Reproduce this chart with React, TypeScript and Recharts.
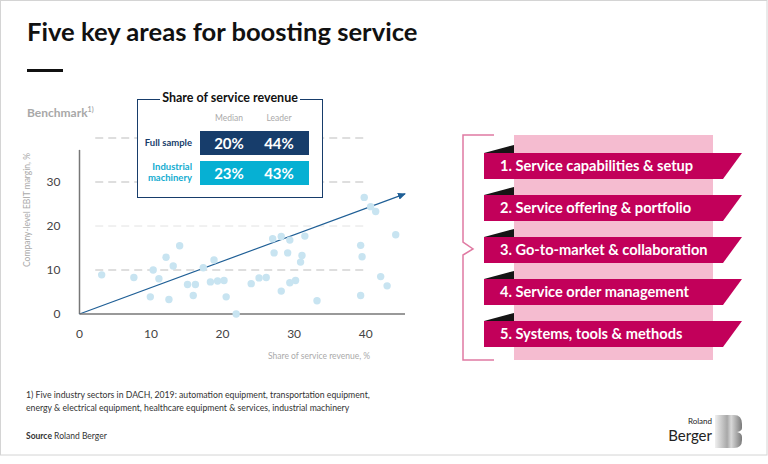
import React from 'react';
import { ScatterChart, Scatter, XAxis, YAxis, ReferenceLine } from 'recharts';

// share of service revenue (%) vs company-level EBIT margin (%)
const serviceShare = [3.1, 7.6, 9.9, 10.3, 11.1, 12.1, 12.5, 13.1, 14.0, 15.1, 15.9, 16.2, 17.3, 18.3, 18.8, 19.3, 20.2, 20.5, 21.9, 24.0, 25.1, 26.1, 27.0, 27.2, 28.2, 28.2, 29.1, 29.4, 29.4, 30.2, 30.9, 31.1, 31.5, 33.2, 39.3, 39.3, 39.5, 39.8, 40.7, 41.4, 42.1, 43.0, 44.2];
const ebitMargin = [8.9, 8.3, 3.9, 10.0, 8.0, 12.9, 3.3, 10.9, 15.5, 6.7, 4.2, 6.7, 10.5, 7.3, 12.3, 7.5, 7.6, 3.9, 0, 6.9, 8.2, 8.3, 17.1, 13.9, 17.6, 5.2, 13.9, 16.8, 7.1, 7.6, 11.8, 13.3, 17.7, 3.0, 15.6, 4.2, 13.0, 26.5, 24.4, 23.3, 8.5, 6.4, 18.0];

const xTicks = [0, 10, 20, 30, 40];
const yTicks = [0, 10, 20, 30];
const gridLevels = [10, 20, 30, 40];
const trendStart = { x: 0, y: 0 };
const trendEnd = { x: 45.5, y: 27.3 };

const tableCols = ['Median', 'Leader'];
const fullSample = ['20%', '44%'];
const industrial = ['23%', '43%'];

const areas = [
  '1. Service capabilities & setup',
  '2. Service offering & portfolio',
  '3. Go-to-market & collaboration',
  '4. Service order management',
  '5. Systems, tools & methods',
];

const points = serviceShare.map((x, i) => ({ x, y: ebitMargin[i] }));

const FONT = 'Lato, "Open Sans", sans-serif';
const NAVY = '#173d6b';
const CYAN = '#06b0d3';
const MAGENTA = '#c2005a';
const PINK = '#f5bcd0';

const Dot = (props: any) => (
  <circle cx={props.cx} cy={props.cy} r={3.7} fill="#c8e4f1" />
);

function RightPanel() {
  const bannerTop = [153, 195, 237, 279, 321];
  return (
    <svg width={768} height={464} style={{ position: 'absolute', left: 0, top: 0 }}>
      <defs>
        <marker id="trendArrow" markerUnits="userSpaceOnUse" markerWidth={8} markerHeight={7} refX={7} refY={3.5} orient="auto">
          <path d="M0,0 L8,3.5 L0,7 Z" fill="#1f5f96" />
        </marker>
        <linearGradient id="bGrad" x1="0" x2="1" y1="0" y2="0">
          <stop offset="0" stopColor="#f0f0f0" />
          <stop offset="0.45" stopColor="#a8a8a8" />
          <stop offset="0.6" stopColor="#d8d8d8" />
          <stop offset="1" stopColor="#7a7a7a" />
        </linearGradient>
      </defs>
      <rect x={0.5} y={0.5} width={766.5} height={454.5} fill="none" stroke="#d4d4d4" />
      <rect x={27} y={69} width={36} height={3} fill="#111" />
      <rect x={514} y={135} width={199} height={225} fill={PINK} />
      <path d="M494,135 L463,135 L463,242 L473,249 L463,255 L463,360 L494,360" fill="none" stroke="#e07aa2" strokeWidth={1.5} />
      {bannerTop.map((t, i) => (
        <g key={i}>
          <path d={`M484,${t} L514,${t - 8} L514,${t} Z`} fill="#151515" />
          <path d={`M484,${t} L742,${t} L723,${t + 26} L484,${t + 26} Z`} fill={MAGENTA} />
          <text x={500} y={t + 18} fill="#fff" fontFamily={FONT} fontWeight={700} fontSize={14.6}>{areas[i]}</text>
        </g>
      ))}
      <path d="M715,415 L734,415 Q742,415 742,424 L742,428 Q742,431 737,432 Q742,433 742,437 L742,440 Q742,448 734,448 L715,448 Z" fill="url(#bGrad)" />
    </svg>
  );
}

function Table() {
  const box = (top: number, color: string, vals: string[]) => (
    <div style={{ position: 'absolute', left: 200, top, width: 109, height: 24, background: color }}>
      {vals.map((v, i) => (
        <div key={i} style={{ position: 'absolute', left: i * 50 + 4, width: 50, top: 0, lineHeight: '24px', textAlign: 'center', color: '#fff', fontWeight: 700, fontSize: 15 }}>{v}</div>
      ))}
    </div>
  );
  return (
    <>
      <div style={{ position: 'absolute', left: 137, top: 99, width: 184, height: 97, border: `1.5px solid ${NAVY}`, background: '#fff' }} />
      <div style={{ position: 'absolute', left: 160, top: 90, width: 140, textAlign: 'center', background: '#fff', fontWeight: 700, fontSize: 12.5, color: '#111', lineHeight: '16px' }}>Share of service revenue</div>
      {tableCols.map((c, i) => (
        <div key={c} style={{ position: 'absolute', left: 204 + i * 50, width: 50, top: 113, textAlign: 'center', fontSize: 8.5, color: '#aaa' }}>{c}</div>
      ))}
      <div style={{ position: 'absolute', left: 130, width: 62, top: 137, textAlign: 'right', fontSize: 9.5, fontWeight: 700, color: NAVY }}>Full sample</div>
      <div style={{ position: 'absolute', left: 130, width: 62, top: 162, textAlign: 'right', fontSize: 9.5, fontWeight: 700, color: '#14acd0', lineHeight: '10.5px' }}>Industrial<br />machinery</div>
      {box(131, NAVY, fullSample)}
      {box(161, CYAN, industrial)}
    </>
  );
}

export default function App() {
  return (
    <div style={{ position: 'absolute', left: 0, top: 0, width: 768, height: 464, background: '#fff', fontFamily: FONT, overflow: 'hidden' }}>
      <RightPanel />
      <div style={{ position: 'absolute', left: 27, top: 16, fontSize: 25.6, fontWeight: 700, color: '#111', whiteSpace: 'nowrap' }}>Five key areas for boosting service</div>
      <div style={{ position: 'absolute', left: 27, top: 105, fontSize: 12, fontWeight: 700, color: '#a8a8a8' }}>Benchmark<sup style={{ fontSize: 7 }}>1)</sup></div>

      <div style={{ position: 'absolute', left: 0, top: 0 }}>
        <ScatterChart width={420} height={380} margin={{ top: 133.6, right: 15, bottom: 36, left: 19.5 }}>
          <XAxis type="number" dataKey="x" domain={[0, 45.5]} ticks={xTicks} tickLine={false} tickSize={0} tickMargin={15}
            axisLine={{ stroke: '#777', strokeWidth: 1.5 }} tick={{ fill: '#444', fontSize: 12, fontFamily: FONT }} />
          <YAxis type="number" dataKey="y" domain={[0, 41]} ticks={yTicks} width={60} axisLine={false} tickLine={false} tickSize={0} tickMargin={19}
            tick={{ fill: '#444', fontSize: 12, fontFamily: FONT }} />
          {gridLevels.map((g) => (
            <ReferenceLine key={g} segment={[{ x: 2.2, y: g }, { x: 40, y: g }]} stroke={g === 20 ? '#e2e2e2' : '#bdbdbd'} strokeDasharray="8 5" />
          ))}
          <ReferenceLine segment={[{ x: 0, y: 0 }, { x: 0, y: 37.3 }]} stroke="#777" strokeWidth={1.5} />
          <Scatter data={points} shape={Dot} isAnimationActive={false} />
          <ReferenceLine segment={[trendStart, trendEnd]} stroke="#1f5f96" strokeWidth={1.2} markerEnd="url(#trendArrow)" />
        </ScatterChart>
      </div>

      <div style={{ position: 'absolute', left: 27, top: 210, transform: 'translate(-50%, -50%) rotate(-90deg)', fontSize: 8.5, color: '#aaa', whiteSpace: 'nowrap', transformOrigin: 'center' }}>Company-level EBIT margin, %</div>
      <div style={{ position: 'absolute', left: 268, top: 351, fontSize: 8.5, color: '#aaa', whiteSpace: 'nowrap' }}>Share of service revenue, %</div>

      <Table />

      <div style={{ position: 'absolute', left: 26, top: 389, fontSize: 8.7, lineHeight: '12.5px', color: '#333' }}>
        1) Five industry sectors in DACH, 2019: automation equipment, transportation equipment,<br />
        energy &amp; electrical equipment, healthcare equipment &amp; services, industrial machinery
      </div>
      <div style={{ position: 'absolute', left: 26, top: 431, fontSize: 8.5, color: '#333' }}><b>Source</b> Roland Berger</div>
      <div style={{ position: 'absolute', left: 660, width: 52, top: 417, textAlign: 'right', color: '#222', fontSize: 8, lineHeight: '9px' }}>Roland</div>
      <div style={{ position: 'absolute', left: 660, width: 52, top: 428, textAlign: 'right', color: '#222', fontSize: 15, lineHeight: '15px' }}>Berger</div>
    </div>
  );
}
